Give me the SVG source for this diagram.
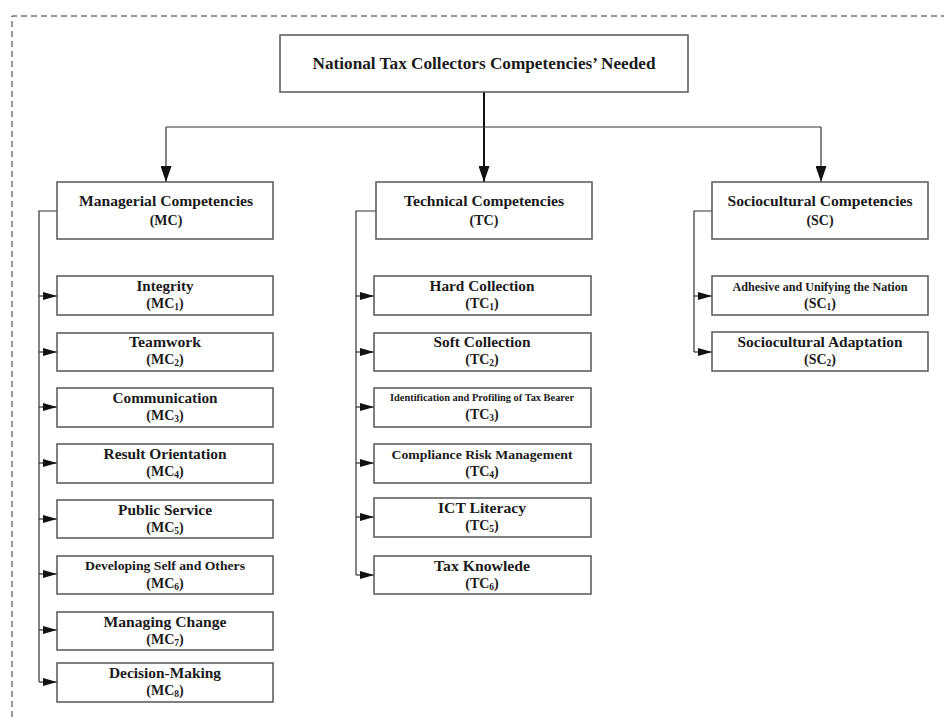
<svg xmlns="http://www.w3.org/2000/svg" width="944" height="717" viewBox="0 0 944 717">
<style>
.bx{fill:#fff;stroke:#555;stroke-width:1.5}
.t{font-family:"Liberation Serif","Times New Roman",serif;font-weight:bold;font-size:14px;fill:#1a1a1a;text-anchor:middle}
.s{font-size:12.5px}
.sub{font-size:9.5px}
.ln{fill:none;stroke:#333;stroke-width:1.2}
</style>
<defs>
<marker id="ah" viewBox="0 0 14 8" refX="14" refY="4" markerWidth="14" markerHeight="8" orient="auto" markerUnits="userSpaceOnUse"><path d="M0,0 L14,4 L0,8z" fill="#111"/></marker>
<marker id="ahd" viewBox="0 0 11 16" refX="5.5" refY="16" markerWidth="11" markerHeight="16" orient="0" markerUnits="userSpaceOnUse"><path d="M0,0 L11,0 L5.5,16z" fill="#111"/></marker>
</defs>
<rect x="0" y="0" width="944" height="717" fill="#fff"/>
<path d="M12,717 V16 H944" fill="none" stroke="#333" stroke-width="1" stroke-dasharray="6,4"/>

<g id="connectors">
<line x1="484" y1="92" x2="484" y2="182" stroke="#111" stroke-width="2" marker-end="url(#ahd)"/>
<line class="ln" x1="166" y1="127" x2="821" y2="127"/>
<line class="ln" x1="166" y1="127" x2="166" y2="182" marker-end="url(#ahd)"/>
<line class="ln" x1="821" y1="127" x2="821" y2="182" marker-end="url(#ahd)"/>
<polyline class="ln" points="57,211 39,211 39,682"/>
<g class="ln" marker-end="url(#ah)">
<line x1="39" y1="296" x2="57" y2="296"/>
<line x1="39" y1="352" x2="57" y2="352"/>
<line x1="39" y1="407" x2="57" y2="407"/>
<line x1="39" y1="463" x2="57" y2="463"/>
<line x1="39" y1="519" x2="57" y2="519"/>
<line x1="39" y1="574" x2="57" y2="574"/>
<line x1="39" y1="630" x2="57" y2="630"/>
<line x1="39" y1="682" x2="57" y2="682"/>
</g>
<polyline class="ln" points="376,211 356,211 356,575"/>
<g class="ln" marker-end="url(#ah)">
<line x1="356" y1="296" x2="374" y2="296"/>
<line x1="356" y1="352" x2="374" y2="352"/>
<line x1="356" y1="407" x2="374" y2="407"/>
<line x1="356" y1="463" x2="374" y2="463"/>
<line x1="356" y1="517" x2="374" y2="517"/>
<line x1="356" y1="575" x2="374" y2="575"/>
</g>
<polyline class="ln" points="712,211 694,211 694,352"/>
<g class="ln" marker-end="url(#ah)">
<line x1="694" y1="296" x2="712" y2="296"/>
<line x1="694" y1="352" x2="712" y2="352"/>
</g>
</g>

<g id="root">
<rect class="bx" x="280" y="35" width="408" height="57"/>
<text class="t" x="484" y="69" style="font-size:17.5px" textLength="343" lengthAdjust="spacingAndGlyphs">National Tax Collectors Competencies’ Needed</text>
</g>

<g id="MC">
<rect class="bx" x="57" y="182" width="216" height="57"/>
<text class="t" x="166" y="206" textLength="174" lengthAdjust="spacingAndGlyphs">Managerial Competencies</text>
<text class="t" x="166" y="225">(MC)</text>
</g>
<g id="TC">
<rect class="bx" x="376" y="182" width="216" height="57"/>
<text class="t" x="484" y="206" textLength="160" lengthAdjust="spacingAndGlyphs">Technical Competencies</text>
<text class="t" x="484" y="225">(TC)</text>
</g>
<g id="SC">
<rect class="bx" x="712" y="182" width="216" height="57"/>
<text class="t" x="820" y="206" textLength="185" lengthAdjust="spacingAndGlyphs">Sociocultural Competencies</text>
<text class="t" x="820" y="225">(SC)</text>
</g>

<g id="MC1"><rect class="bx" x="57" y="276" width="216" height="39"/>
<text class="t" x="165" y="291" textLength="57" lengthAdjust="spacingAndGlyphs">Integrity</text>
<text class="t" x="165" y="308">(MC<tspan class="sub" dy="1.5">1</tspan><tspan dy="-1.5">)</tspan></text></g>
<g id="MC2"><rect class="bx" x="57" y="333" width="216" height="38"/>
<text class="t" x="165" y="347" textLength="72" lengthAdjust="spacingAndGlyphs">Teamwork</text>
<text class="t" x="165" y="364">(MC<tspan class="sub" dy="1.5">2</tspan><tspan dy="-1.5">)</tspan></text></g>
<g id="MC3"><rect class="bx" x="57" y="388" width="216" height="39"/>
<text class="t" x="165" y="403" textLength="105" lengthAdjust="spacingAndGlyphs">Communication</text>
<text class="t" x="165" y="420">(MC<tspan class="sub" dy="1.5">3</tspan><tspan dy="-1.5">)</tspan></text></g>
<g id="MC4"><rect class="bx" x="57" y="444" width="216" height="39"/>
<text class="t" x="165" y="459" textLength="123" lengthAdjust="spacingAndGlyphs">Result Orientation</text>
<text class="t" x="165" y="476">(MC<tspan class="sub" dy="1.5">4</tspan><tspan dy="-1.5">)</tspan></text></g>
<g id="MC5"><rect class="bx" x="57" y="500" width="216" height="38"/>
<text class="t" x="165" y="515" textLength="94" lengthAdjust="spacingAndGlyphs">Public Service</text>
<text class="t" x="165" y="532">(MC<tspan class="sub" dy="1.5">5</tspan><tspan dy="-1.5">)</tspan></text></g>
<g id="MC6"><rect class="bx" x="57" y="556" width="216" height="38"/>
<text class="t s" x="165" y="570" textLength="160" lengthAdjust="spacingAndGlyphs">Developing Self and Others</text>
<text class="t" x="165" y="588">(MC<tspan class="sub" dy="1.5">6</tspan><tspan dy="-1.5">)</tspan></text></g>
<g id="MC7"><rect class="bx" x="57" y="612" width="216" height="38"/>
<text class="t" x="165" y="627" textLength="123" lengthAdjust="spacingAndGlyphs">Managing Change</text>
<text class="t" x="165" y="644">(MC<tspan class="sub" dy="1.5">7</tspan><tspan dy="-1.5">)</tspan></text></g>
<g id="MC8"><rect class="bx" x="57" y="663" width="216" height="39"/>
<text class="t" x="165" y="678" textLength="112" lengthAdjust="spacingAndGlyphs">Decision-Making</text>
<text class="t" x="165" y="695">(MC<tspan class="sub" dy="1.5">8</tspan><tspan dy="-1.5">)</tspan></text></g>

<g id="TC1"><rect class="bx" x="374" y="276" width="217" height="39"/>
<text class="t" x="482" y="291" textLength="105" lengthAdjust="spacingAndGlyphs">Hard Collection</text>
<text class="t" x="482" y="308">(TC<tspan class="sub" dy="1.5">1</tspan><tspan dy="-1.5">)</tspan></text></g>
<g id="TC2"><rect class="bx" x="374" y="333" width="217" height="38"/>
<text class="t" x="482" y="347" textLength="97" lengthAdjust="spacingAndGlyphs">Soft Collection</text>
<text class="t" x="482" y="364">(TC<tspan class="sub" dy="1.5">2</tspan><tspan dy="-1.5">)</tspan></text></g>
<g id="TC3"><rect class="bx" x="374" y="388" width="217" height="39"/>
<text class="t" x="482" y="401" style="font-size:10.5px" textLength="184" lengthAdjust="spacingAndGlyphs">Identification and Profiling of Tax Bearer</text>
<text class="t" x="482" y="419">(TC<tspan class="sub" dy="1.5">3</tspan><tspan dy="-1.5">)</tspan></text></g>
<g id="TC4"><rect class="bx" x="374" y="444" width="217" height="39"/>
<text class="t" x="482" y="459" style="font-size:13px" textLength="181" lengthAdjust="spacingAndGlyphs">Compliance Risk Management</text>
<text class="t" x="482" y="476">(TC<tspan class="sub" dy="1.5">4</tspan><tspan dy="-1.5">)</tspan></text></g>
<g id="TC5"><rect class="bx" x="374" y="498" width="217" height="39"/>
<text class="t" x="482" y="513" textLength="88" lengthAdjust="spacingAndGlyphs">ICT Literacy</text>
<text class="t" x="482" y="530">(TC<tspan class="sub" dy="1.5">5</tspan><tspan dy="-1.5">)</tspan></text></g>
<g id="TC6"><rect class="bx" x="374" y="556" width="217" height="38"/>
<text class="t" x="482" y="571" textLength="96" lengthAdjust="spacingAndGlyphs">Tax Knowlede</text>
<text class="t" x="482" y="588">(TC<tspan class="sub" dy="1.5">6</tspan><tspan dy="-1.5">)</tspan></text></g>

<g id="SC1"><rect class="bx" x="712" y="276" width="216" height="39"/>
<text class="t" x="820" y="291" style="font-size:12px" textLength="175" lengthAdjust="spacingAndGlyphs">Adhesive and Unifying the Nation</text>
<text class="t" x="820" y="308">(SC<tspan class="sub" dy="1.5">1</tspan><tspan dy="-1.5">)</tspan></text></g>
<g id="SC2"><rect class="bx" x="712" y="332" width="216" height="39"/>
<text class="t" x="820" y="347" textLength="165" lengthAdjust="spacingAndGlyphs">Sociocultural Adaptation</text>
<text class="t" x="820" y="364">(SC<tspan class="sub" dy="1.5">2</tspan><tspan dy="-1.5">)</tspan></text></g>
</svg>
